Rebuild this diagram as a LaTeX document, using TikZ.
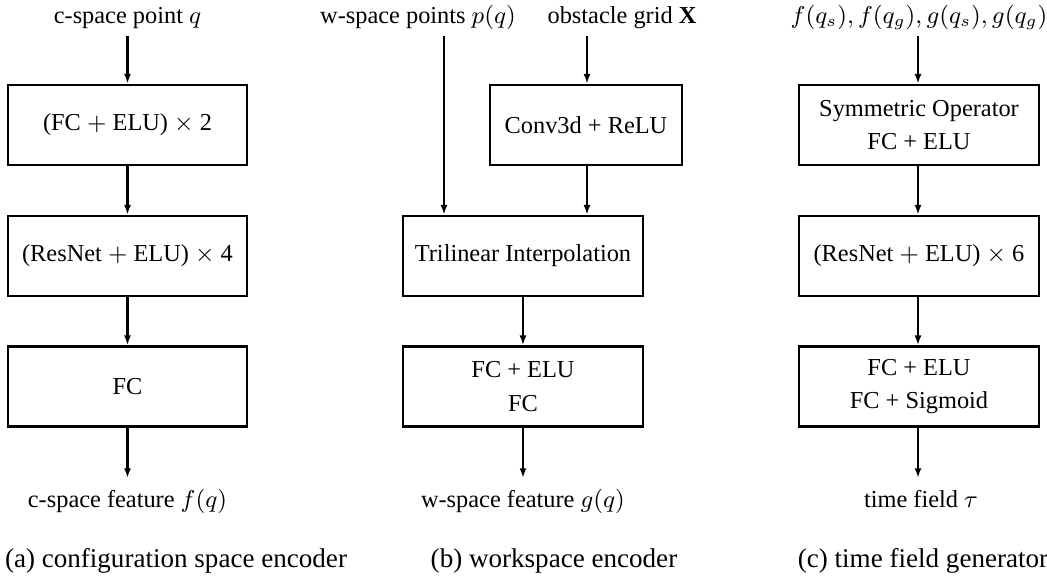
\documentclass[tikz,border=0pt]{standalone}
\usepackage{fontspec}
\setmainfont{Liberation Serif}
\usetikzlibrary{arrows.meta}
\begin{document}
\begin{tikzpicture}[x=0.3694pt,y=-0.3694pt,
  box/.style={draw, line width=1pt, minimum height=29.55pt, inner sep=0pt, align=center,
    font=\fontsize{9}{12.5}\selectfont},
  wa/.style={minimum width=88.3pt},
  wb/.style={minimum width=70.9pt},
  wc/.style={minimum width=88.7pt},
  lbl/.style={inner sep=0pt, anchor=base, font=\fontsize{9}{11}\selectfont},
  captext/.style={inner sep=0pt, anchor=base, font=\fontsize{10}{12}\selectfont},
  arr/.style={line width=1pt, -{Latex[length=3.6pt,width=2.6pt]}}]
\useasboundingbox (0,0) rectangle (1047,580);
% column a
\node[lbl] (ain) at (127.5,24) {c-space point $q$};
\coordinate (ainc) at (127.5,36);
\node[box,wa] (a1) at (127.5,125) {(FC $+$ ELU) $\times$ 2};
\node[box,wa] (a2) at (127.5,256) {(ResNet $+$ ELU) $\times$ 4};
\node[box,wa] (a3) at (127.5,386.5) {FC};
\coordinate (aout) at (127.5,478);
\node[lbl] (aol) at (127.5,508) {c-space feature $f(q)$};
\node[captext] (acap) at (176,568) {(a) configuration space encoder};
\draw[arr] (ainc) -- (a1.north);
\draw[arr] (a1) -- (a2);
\draw[arr] (a2) -- (a3);
\draw[arr] (a3.south) -- (aout);
% column b
\node[lbl] (bin1) at (418,24) {w-space points $p(q)$};
\node[lbl] (bin2) at (622,24) {obstacle grid $\mathbf{X}$};
\coordinate (bin1c) at (444,36);
\coordinate (bin2c) at (587,36);
\node[box,wb] (b1) at (586,125) {Conv3d + ReLU};
\node[box,wc] (b2) at (523,256) {Trilinear Interpolation};
\node[box,wc] (b3) at (523,386.5) {FC + ELU\\FC};
\coordinate (bout) at (523,478);
\node[lbl] (bol) at (523,508) {w-space feature $g(q)$};
\node[captext] (bcap) at (554,568) {(b) workspace encoder};
\draw[arr] (bin2c) -- (b1.north -| bin2c);
\draw[arr] (b1.south -| bin2c) -- (b2.north -| bin2c);
\draw[arr] (bin1c) -- (b2.north -| bin1c);
\draw[arr] (b2) -- (b3);
\draw[arr] (b3.south) -- (bout);
% column c
\node[lbl] (cin) at (919,24) {$f(q_s), f(q_g), g(q_s), g(q_g)$};
\coordinate (cinc) at (918,36);
\node[box,wc] (c1) at (919,125) {Symmetric Operator\\FC + ELU};
\node[box,wc] (c2) at (919,256) {(ResNet $+$ ELU) $\times$ 6};
\node[box,wc] (c3) at (919,386.5) {FC + ELU\\FC + Sigmoid};
\coordinate (cout) at (918,478);
\node[lbl] (col) at (921,508) {time field $\tau$};
\node[captext] (ccap) at (923,568) {(c) time field generator};
\draw[arr] (cinc) -- (c1.north -| cinc);
\draw[arr] (c1.south -| cinc) -- (c2.north -| cinc);
\draw[arr] (c2.south -| cinc) -- (c3.north -| cinc);
\draw[arr] (c3.south -| cinc) -- (cout);
\end{tikzpicture}
\end{document}
